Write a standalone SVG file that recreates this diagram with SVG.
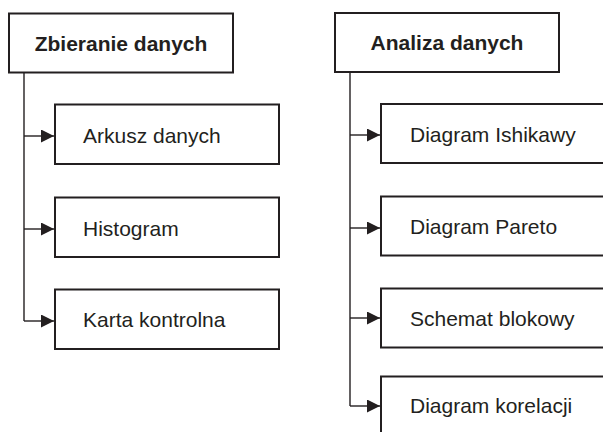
<svg xmlns="http://www.w3.org/2000/svg" width="603" height="432" viewBox="0 0 603 432">
<style>
.box{fill:#fff;stroke:#231f20;stroke-width:2}
.t{font-family:"Liberation Sans",Arial,sans-serif;font-size:21px;fill:#231f20}
.b{font-weight:bold;text-anchor:middle}
.ln{fill:none;stroke:#231f20;stroke-width:1.4}
</style>
<defs>
<marker id="ah" markerUnits="userSpaceOnUse" markerWidth="13" markerHeight="13" refX="13" refY="6.5" orient="auto">
<path d="M0,0 L13,6.5 L0,13 Z" fill="#231f20"/>
</marker>
</defs>
<rect width="603" height="432" fill="#fff"/>
<g id="connectors">
<path class="ln" d="M24,73 V321"/>
<path class="ln" d="M24,136 H54" marker-end="url(#ah)"/>
<path class="ln" d="M24,229 H54" marker-end="url(#ah)"/>
<path class="ln" d="M24,321 H54" marker-end="url(#ah)"/>
<path class="ln" d="M350,72 V406"/>
<path class="ln" d="M350,135 H380" marker-end="url(#ah)"/>
<path class="ln" d="M350,228 H380" marker-end="url(#ah)"/>
<path class="ln" d="M350,318 H380" marker-end="url(#ah)"/>
<path class="ln" d="M350,406 H380" marker-end="url(#ah)"/>
</g>
<g id="zbieranie">
<rect class="box" x="9" y="13.5" width="224" height="59"/>
<text class="t b" x="121" y="50.5">Zbieranie danych</text>
</g>
<g id="arkusz">
<rect class="box" x="55" y="104.5" width="224" height="59.5"/>
<text class="t" x="83" y="142.5">Arkusz danych</text>
</g>
<g id="histogram">
<rect class="box" x="55" y="197.5" width="224" height="59.5"/>
<text class="t" x="83" y="235.5">Histogram</text>
</g>
<g id="karta">
<rect class="box" x="55" y="289.5" width="224" height="59.5"/>
<text class="t" x="83" y="327">Karta kontrolna</text>
</g>
<g id="analiza">
<rect class="box" x="335" y="13" width="224" height="59"/>
<text class="t b" x="447" y="50">Analiza danych</text>
</g>
<g id="ishikawa">
<rect class="box" x="381" y="104" width="240" height="59"/>
<text class="t" x="410" y="141.5">Diagram Ishikawy</text>
</g>
<g id="pareto">
<rect class="box" x="381" y="196.5" width="240" height="59"/>
<text class="t" x="410" y="234">Diagram Pareto</text>
</g>
<g id="schemat">
<rect class="box" x="381" y="288.5" width="240" height="59"/>
<text class="t" x="410" y="325.5">Schemat blokowy</text>
</g>
<g id="korelacji">
<rect class="box" x="381" y="376.5" width="240" height="70"/>
<text class="t" x="410" y="413">Diagram korelacji</text>
</g>
</svg>
